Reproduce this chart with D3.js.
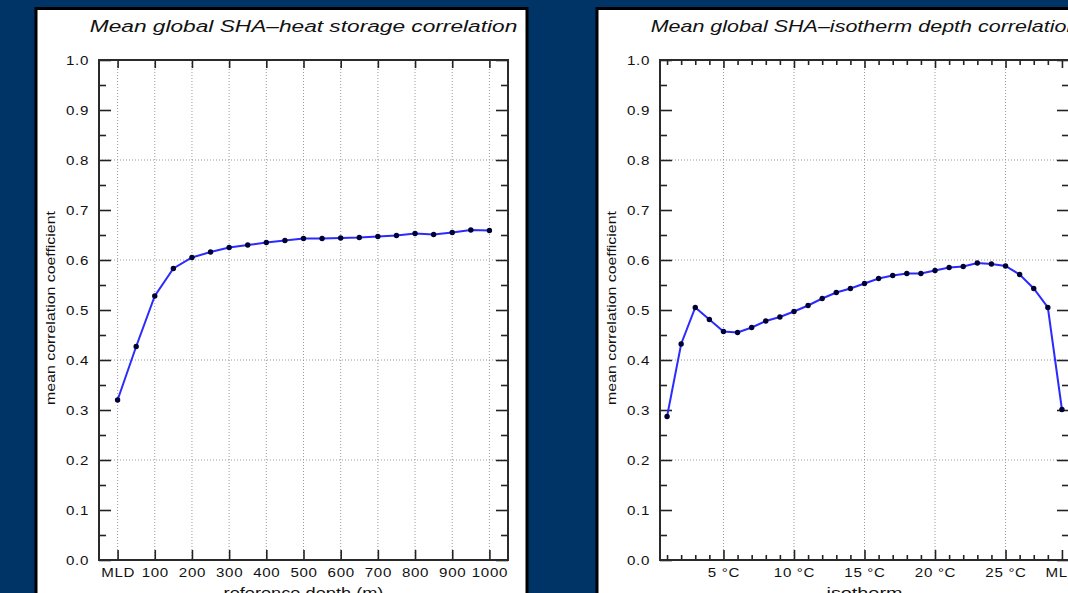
<!DOCTYPE html>
<html>
<head>
<meta charset="utf-8">
<script src="https://cdn.jsdelivr.net/npm/d3@7"></script>
<style>
  html, body { margin: 0; padding: 0; background: #003366; overflow: hidden; }
  svg { display: block; }
  text { font-family: "Liberation Sans", Arial, Helvetica, sans-serif; fill: #111; }
</style>
</head>
<body>
<svg id="chart" width="1068" height="593"></svg>
<script>
// ---------- data ----------
const depths = [0, 50, 100, 150, 200, 250, 300, 350, 400, 450, 500, 550, 600, 650, 700, 750, 800, 850, 900, 950, 1000];
const heatCorr = [0.320, 0.427, 0.528, 0.583, 0.605, 0.616, 0.625, 0.630, 0.635, 0.639, 0.643, 0.643, 0.644, 0.645, 0.647, 0.649, 0.653, 0.651, 0.655, 0.660, 0.659];
const depthTickValues = [0, 100, 200, 300, 400, 500, 600, 700, 800, 900, 1000];
const depthTickLabels = ["MLD", "100", "200", "300", "400", "500", "600", "700", "800", "900", "1000"];

const isotherms = [1, 2, 3, 4, 5, 6, 7, 8, 9, 10, 11, 12, 13, 14, 15, 16, 17, 18, 19, 20, 21, 22, 23, 24, 25, 26, 27, 28, 29];
const isoCorr = [0.287, 0.432, 0.505, 0.481, 0.457, 0.455, 0.465, 0.478, 0.486, 0.497, 0.509, 0.523, 0.535, 0.543, 0.553, 0.563, 0.569, 0.573, 0.573, 0.579, 0.585, 0.587, 0.594, 0.592, 0.588, 0.571, 0.543, 0.505, 0.301];
const isoTickValues = [5, 10, 15, 20, 25, 29];
const isoTickLabels = ["5 °C", "10 °C", "15 °C", "20 °C", "25 °C", "MLD"];

const yMajor = [0, 0.1, 0.2, 0.3, 0.4, 0.5, 0.6, 0.7, 0.8, 0.9, 1.0];
const yMinor = [0.05, 0.15, 0.25, 0.35, 0.45, 0.55, 0.65, 0.75, 0.85, 0.95];
const yGrid = [0.2, 0.4, 0.6, 0.8];

const titles = ["Mean global SHA\u2013heat storage correlation", "Mean global SHA\u2013isotherm depth correlation"];
const xTitles = ["reference depth (m)", "isotherm"];
const yTitle = "mean correlation coefficient";

// ---------- drawing ----------
const svg = d3.select("#chart");

// draw text centred at (cx, cy) horizontally stretched to a given width
function stretchedText(parent, str, cx, cy, size, width, italic, rotate) {
  const t = parent.append("text").attr("x", 0).attr("y", 0)
    .attr("text-anchor", "middle").attr("font-size", size)
    .attr("font-style", italic ? "italic" : "normal").text(str);
  const w = t.node().getComputedTextLength();
  const s = width / w;
  t.attr("transform", `translate(${cx},${cy})${rotate ? " rotate(-90)" : ""} scale(${s},1)`);
  return t;
}

function panel(opts) {
  const px = opts.px, py = 8.5, pw = 491, ph = 640;
  const x0 = px + 63, x1 = x0 + 409, y0 = 60, y1 = 560;

  svg.append("rect")
    .attr("x", px).attr("y", py).attr("width", pw).attr("height", ph)
    .attr("fill", "#fff").attr("stroke", "#000").attr("stroke-width", 3);

  const x = d3.scaleLinear().domain(opts.xDomain).range([x0, x1]);
  const y = d3.scaleLinear().domain([0, 1]).range([y1, y0]);

  const g = svg.append("g");

  // grid
  g.selectAll(".vg").data(opts.gridX).join("line")
    .attr("x1", d => x(d)).attr("x2", d => x(d)).attr("y1", y0).attr("y2", y1)
    .attr("stroke", "#9a9a9a").attr("stroke-width", 1).attr("stroke-dasharray", "1,2");
  g.selectAll(".hg").data(yGrid).join("line")
    .attr("x1", x0).attr("x2", x1).attr("y1", d => y(d)).attr("y2", d => y(d))
    .attr("stroke", "#9a9a9a").attr("stroke-width", 1).attr("stroke-dasharray", "1,2");

  function styleAxis(sel) {
    sel.select(".domain").remove();
    sel.selectAll(".tick line").attr("stroke", "#222").attr("stroke-width", 1.6);
    sel.selectAll("text").attr("font-size", 13.5).attr("letter-spacing", 0.6)
      .attr("font-family", '"Liberation Sans", Arial, sans-serif').attr("fill", "#111");
  }
  function stretchLabels(sel) {
    sel.selectAll(".tick text").each(function () {
      const t = d3.select(this);
      const xx = +t.attr("x") || 0;
      t.attr("transform", `translate(${xx},0) scale(1.12,1) translate(${-xx},0)`);
    });
  }

  // left y axis with labels
  g.append("g").attr("transform", `translate(${x0},0)`)
    .call(d3.axisLeft(y).tickValues(yMajor).tickSizeInner(-12).tickSizeOuter(0).tickPadding(10).tickFormat(d3.format(".1f")))
    .call(styleAxis).call(stretchLabels);
  g.append("g").attr("transform", `translate(${x0},0)`)
    .call(d3.axisLeft(y).tickValues(yMinor).tickSizeInner(-7).tickSizeOuter(0).tickFormat(""))
    .call(styleAxis);
  // right y axis
  g.append("g").attr("transform", `translate(${x1},0)`)
    .call(d3.axisRight(y).tickValues(yMajor).tickSizeInner(-12).tickSizeOuter(0).tickFormat(""))
    .call(styleAxis);
  g.append("g").attr("transform", `translate(${x1},0)`)
    .call(d3.axisRight(y).tickValues(yMinor).tickSizeInner(-7).tickSizeOuter(0).tickFormat(""))
    .call(styleAxis);

  // bottom x axis
  g.append("g").attr("transform", `translate(0,${y1})`)
    .call(d3.axisBottom(x).tickValues(opts.xTicks).tickSizeInner(-10).tickSizeOuter(0).tickPadding(7)
      .tickFormat((d, i) => opts.xLabels[i]))
    .call(styleAxis).call(stretchLabels);
  if (opts.xMinor) {
    g.append("g").attr("transform", `translate(0,${y1})`)
      .call(d3.axisBottom(x).tickValues(opts.xMinor).tickSizeInner(-5).tickSizeOuter(0).tickFormat(""))
      .call(styleAxis);
    g.append("g").attr("transform", `translate(0,${y0})`)
      .call(d3.axisTop(x).tickValues(opts.xMinor).tickSizeInner(-5).tickSizeOuter(0).tickFormat(""))
      .call(styleAxis);
  }
  g.append("g").attr("transform", `translate(0,${y0})`)
    .call(d3.axisTop(x).tickValues(opts.xTicks).tickSizeInner(-8).tickSizeOuter(0).tickFormat(""))
    .call(styleAxis);

  // frame
  g.append("rect").attr("x", x0).attr("y", y0).attr("width", x1 - x0).attr("height", y1 - y0)
    .attr("fill", "none").attr("stroke", "#2a2a2a").attr("stroke-width", 2);

  // series
  const pts = opts.xs.map((d, i) => [d, opts.ys[i]]);
  g.append("path").datum(pts)
    .attr("d", d3.line().x(d => x(d[0])).y(d => y(d[1])))
    .attr("fill", "none").attr("stroke", "#2b2bff").attr("stroke-width", 2);
  g.selectAll(".pt").data(pts).join("circle")
    .attr("cx", d => x(d[0])).attr("cy", d => y(d[1])).attr("r", 2.7)
    .attr("fill", "#000033");

  // titles
  stretchedText(g, opts.title, (x0 + x1) / 2, 32, 16.5, 428, true, false);
  stretchedText(g, yTitle, x0 - 44, 308, 13, 194, false, true);
  stretchedText(g, opts.xTitle, (x0 + x1) / 2, 598, 14, opts.xTitleW, false, false);
}

panel({
  px: 36, xDomain: [-50, 1050], xs: depths, ys: heatCorr,
  xTicks: depthTickValues, xLabels: depthTickLabels, gridX: depthTickValues,
  title: titles[0], xTitle: xTitles[0], xTitleW: 160
});

panel({
  px: 597, xDomain: [0.5, 29.5], xs: isotherms, ys: isoCorr,
  xTicks: isoTickValues, xLabels: isoTickLabels, gridX: [5, 10, 15, 20, 25],
  xMinor: isotherms.filter(d => isoTickValues.indexOf(d) < 0),
  title: titles[1], xTitle: xTitles[1], xTitleW: 76
});
</script>
</body>
</html>
